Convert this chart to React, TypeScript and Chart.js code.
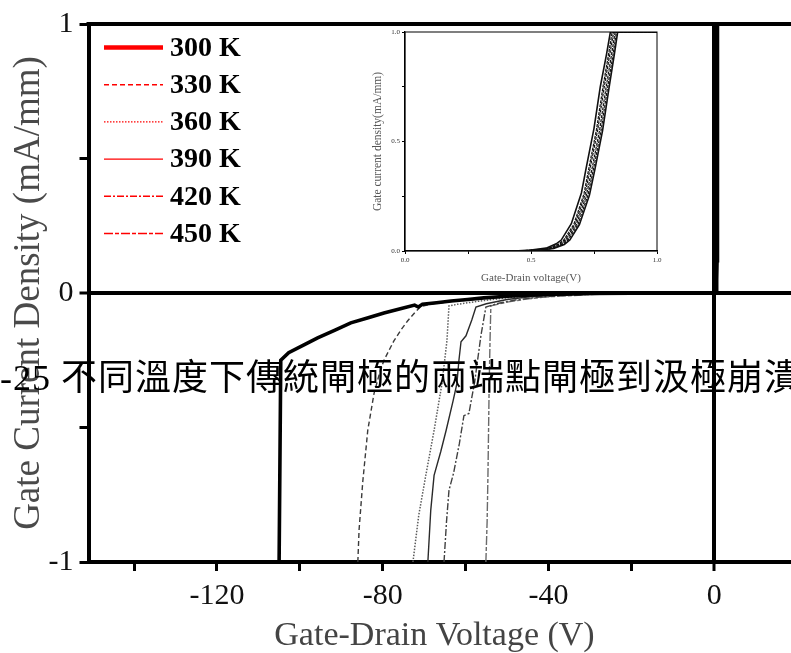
import { useEffect, useRef } from 'react';
import { Chart, registerables } from 'chart.js';

Chart.register(...registerables);

type Pt = [number, number];

// Temperatures of the six sweeps
const curveLabels = ['300 K', '330 K', '360 K', '390 K', '420 K', '450 K'];

// Reverse sweeps: gate-drain voltage (V), gate current density (mA/mm)
const reverse300: Pt[] = [
  [-105.0, -1.0], [-104.6, -0.25], [-102.7, -0.222], [-99.0, -0.193], [-95.7, -0.167],
  [-91.5, -0.138], [-87.7, -0.111], [-83.5, -0.092], [-79.7, -0.074], [-75.5, -0.058],
  [-72.3, -0.045], [-71.4, -0.052], [-70.4, -0.042], [-67.0, -0.036], [-63.5, -0.03],
  [-59.5, -0.024], [-55.6, -0.018], [-50.0, -0.012], [-45.0, -0.008], [-40.0, -0.005],
  [-30.0, -0.002], [-20.0, -0.001], [0, 0],
];
const reverse330: Pt[] = [
  [-86.0, -1.0], [-85.7, -0.88], [-84.8, -0.7], [-83.6, -0.51], [-82.1, -0.374],
  [-80.8, -0.3], [-79.7, -0.25], [-77.3, -0.178], [-75.5, -0.135], [-74.0, -0.104],
  [-72.2, -0.072], [-70.8, -0.05], [-68.0, -0.04], [-63.5, -0.032], [-55.6, -0.02],
  [-50.0, -0.014], [-45.0, -0.009], [-38.0, -0.005], [-30.0, -0.003], [-20.0, -0.001], [0, 0],
];
const reverse360: Pt[] = [
  [-72.7, -1.0], [-71.3, -0.826], [-69.6, -0.678], [-67.6, -0.511], [-65.7, -0.337],
  [-64.5, -0.178], [-64.0, -0.048], [-62.0, -0.042], [-58.0, -0.033], [-54.0, -0.025],
  [-50.0, -0.018], [-45.0, -0.012], [-40.0, -0.007], [-30.0, -0.003], [-20.0, -0.001], [0, 0],
];
const reverse390: Pt[] = [
  [-69.1, -1.0], [-68.4, -0.807], [-67.6, -0.678], [-66.0, -0.59], [-64.7, -0.511],
  [-63.0, -0.4], [-62.1, -0.337], [-61.6, -0.25], [-61.1, -0.181], [-59.9, -0.159],
  [-58.5, -0.1], [-57.5, -0.052], [-55.0, -0.04], [-50.0, -0.024], [-45.0, -0.015],
  [-40.0, -0.009], [-30.0, -0.004], [-20.0, -0.001], [0, 0],
];
const reverse420: Pt[] = [
  [-65.2, -1.0], [-64.6, -0.85], [-64.0, -0.733], [-62.9, -0.67], [-61.5, -0.56],
  [-60.4, -0.456], [-59.2, -0.448], [-57.8, -0.33], [-56.3, -0.159], [-55.1, -0.052],
  [-52.0, -0.038], [-48.0, -0.026], [-42.0, -0.015], [-35.0, -0.008], [-25.0, -0.003],
  [-15.0, -0.001], [0, 0],
];
const reverse450: Pt[] = [
  [-55.1, -1.0], [-54.8, -0.85], [-54.6, -0.678], [-54.3, -0.337], [-54.1, -0.18],
  [-53.9, -0.048], [-50.0, -0.034], [-45.0, -0.022], [-40.0, -0.014], [-30.0, -0.006],
  [-20.0, -0.002], [0, 0],
];

// Forward sweeps (0 to 1 V), clamped at the 1 mA/mm compliance
const forward300: Pt[] = [
  [0.42, 0], [0.48, 0.001], [0.535, 0.004], [0.59, 0.012], [0.632, 0.03], [0.654, 0.05],
  [0.692, 0.12], [0.732, 0.255], [0.754, 0.375], [0.784, 0.55], [0.809, 0.74], [0.831, 0.9],
  [0.844, 1.0], [1.0, 1.0],
];
const forward330: Pt[] = [
  [0.42, 0], [0.48, 0.001], [0.53, 0.004], [0.585, 0.012], [0.626, 0.03], [0.648, 0.05],
  [0.686, 0.12], [0.726, 0.255], [0.748, 0.375], [0.778, 0.55], [0.803, 0.74], [0.826, 0.9],
  [0.839, 1.0], [1.0, 1.0],
];
const forward360: Pt[] = [
  [0.41, 0], [0.47, 0.001], [0.525, 0.004], [0.58, 0.012], [0.62, 0.03], [0.642, 0.05],
  [0.68, 0.12], [0.72, 0.255], [0.742, 0.375], [0.772, 0.55], [0.797, 0.74], [0.82, 0.9],
  [0.834, 1.0], [1.0, 1.0],
];
const forward390: Pt[] = [
  [0.41, 0], [0.47, 0.001], [0.52, 0.004], [0.575, 0.013], [0.615, 0.032], [0.636, 0.05],
  [0.675, 0.122], [0.715, 0.26], [0.735, 0.38], [0.765, 0.555], [0.79, 0.745], [0.813, 0.9],
  [0.828, 1.0], [1.0, 1.0],
];
const forward420: Pt[] = [
  [0.4, 0], [0.46, 0.001], [0.51, 0.004], [0.57, 0.013], [0.61, 0.032], [0.63, 0.05],
  [0.67, 0.122], [0.71, 0.26], [0.73, 0.38], [0.76, 0.555], [0.785, 0.745], [0.808, 0.9],
  [0.822, 1.0], [1.0, 1.0],
];
const forward450: Pt[] = [
  [0.4, 0], [0.45, 0.001], [0.5, 0.004], [0.56, 0.013], [0.6, 0.033], [0.62, 0.05],
  [0.66, 0.125], [0.7, 0.265], [0.72, 0.385], [0.75, 0.56], [0.775, 0.75], [0.8, 0.9],
  [0.815, 1.0], [1.0, 1.0],
];

const reverseSweeps = [reverse300, reverse330, reverse360, reverse390, reverse420, reverse450];
const forwardSweeps = [forward300, forward330, forward360, forward390, forward420, forward450];

// Axis ticks
const xTicks = [-140, -120, -100, -80, -60, -40, -20, 0, 20];
const xLabelled = [-120, -80, -40, 0];
const yTicks = [-1, -0.5, 0, 0.5, 1];
const yLabelled = [-1, 0, 1];
const insetTicks = [0, 0.25, 0.5, 0.75, 1];
const insetLabelled = [0, 0.5, 1];

// Trace styles
const traceColor = ['#000000', '#3a3a3a', '#5a5a5a', '#2a2a2a', '#404040', '#6a6a6a'];
const traceWidth = [3.6, 1.4, 1.5, 1.4, 1.4, 1.4];
const traceDash: number[][] = [[], [5, 3], [1.5, 1.5], [], [7, 2, 2, 2], [9, 2, 4, 2]];
const insetWidth = [1.6, 1.2, 1.2, 1.2, 1.2, 1.6];
const keyRed = '#ff0000';

const serif = '"Liberation Serif", "Times New Roman", serif';

const toXY = (pts: Pt[]) => pts.map(([x, y]) => ({ x, y }));

// Heavy top edge of the frame, plus a far right edge
const frameEdges = {
  id: 'frameEdges',
  afterDraw(chart: any) {
    const { ctx, chartArea } = chart;
    ctx.save();
    ctx.strokeStyle = '#000';
    ctx.lineWidth = 4;
    ctx.beginPath();
    ctx.moveTo(chartArea.left - 2, chartArea.top);
    ctx.lineTo(chartArea.right, chartArea.top);
    ctx.lineTo(chartArea.right, chartArea.bottom);
    ctx.stroke();
    ctx.restore();
  },
};

// Red line-style key in the upper left of the plot
const redKey = {
  id: 'redKey',
  afterDraw(chart: any) {
    const { ctx, chartArea } = chart;
    ctx.save();
    chart.data.datasets.forEach((ds: any, i: number) => {
      const y = chartArea.top + 23.5 + i * 37.2;
      const x0 = chartArea.left + 15.5;
      ctx.strokeStyle = keyRed;
      ctx.lineWidth = i === 0 ? 4.5 : 1.4;
      ctx.setLineDash(ds.borderDash || []);
      ctx.beginPath();
      ctx.moveTo(x0, y);
      ctx.lineTo(x0 + 59, y);
      ctx.stroke();
      ctx.setLineDash([]);
      ctx.fillStyle = '#000';
      ctx.font = `bold 28px ${serif}`;
      ctx.textBaseline = 'middle';
      ctx.textAlign = 'left';
      ctx.fillText(ds.label, x0 + 66, y + 1);
    });
    ctx.restore();
  },
};

// Bottom axis caption
const xCaption = {
  id: 'xCaption',
  afterDraw(chart: any) {
    const { ctx, chartArea } = chart;
    ctx.save();
    ctx.font = `34px ${serif}`;
    ctx.fillStyle = '#444';
    ctx.textAlign = 'center';
    ctx.textBaseline = 'middle';
    ctx.fillText('Gate-Drain Voltage (V)', chartArea.left + 346, 636);
    ctx.restore();
  },
};

// Thin box around the inset plot
const insetFrame = {
  id: 'insetFrame',
  afterDraw(chart: any) {
    const { ctx, chartArea } = chart;
    ctx.save();
    ctx.strokeStyle = '#000';
    ctx.lineWidth = 1;
    ctx.strokeRect(chartArea.left, chartArea.top, chartArea.right - chartArea.left, chartArea.bottom - chartArea.top);
    ctx.restore();
  },
};

const zeroGrid = {
  color: (c: any) => (c.tick && c.tick.value === 0 ? '#000' : 'rgba(0,0,0,0)'),
  lineWidth: (c: any) => (c.tick && c.tick.value === 0 ? 4 : 1),
  tickColor: '#000',
  tickWidth: 3,
  tickLength: 9,
};

function MainPlot() {
  const ref = useRef<HTMLCanvasElement>(null);
  useEffect(() => {
    const chart = new Chart(ref.current as HTMLCanvasElement, {
      type: 'line',
      data: {
        datasets: curveLabels.map((label, i) => ({
          label,
          data: toXY([...reverseSweeps[i], ...forwardSweeps[i]]),
          borderColor: traceColor[i],
          borderWidth: traceWidth[i],
          borderDash: traceDash[i],
          pointRadius: 0,
          fill: false,
          tension: 0,
        })),
      },
      options: {
        animation: false,
        responsive: false,
        layout: { padding: { top: 22.5, right: 11.5, left: 0, bottom: 0 } },
        plugins: { legend: { display: false }, tooltip: { enabled: false } },
        scales: {
          x: {
            type: 'linear',
            min: -151,
            max: 30,
            afterBuildTicks: (s: any) => {
              s.ticks = xTicks.map((value) => ({ value }));
            },
            afterFit: (s: any) => {
              s.height = 91;
            },
            ticks: {
              autoSkip: false,
              maxRotation: 0,
              padding: 7,
              color: '#111',
              font: { family: serif, size: 30 },
              callback: (v: any) => (xLabelled.includes(v) ? String(v) : ''),
            },
            grid: zeroGrid,
            border: { display: true, color: '#000', width: 4 },
          },
          y: {
            type: 'linear',
            min: -1,
            max: 1,
            afterBuildTicks: (s: any) => {
              s.ticks = yTicks.map((value) => ({ value }));
            },
            afterFit: (s: any) => {
              s.width = 88.5;
            },
            ticks: {
              autoSkip: false,
              padding: 6,
              color: '#111',
              font: { family: serif, size: 30 },
              callback: (v: any) => (yLabelled.includes(v) ? String(v) : ''),
            },
            title: {
              display: true,
              text: 'Gate Current Density (mA/mm)',
              color: '#4a4a4a',
              font: { family: serif, size: 37 },
              padding: { top: 7, bottom: 0 },
            },
            grid: zeroGrid,
            border: { display: true, color: '#000', width: 4 },
          },
        },
      },
      plugins: [frameEdges, redKey, xCaption],
    } as any);
    return () => chart.destroy();
  }, []);
  return (
    <canvas
      ref={ref}
      width={850}
      height={653}
      style={{ position: 'absolute', left: 0, top: 0, width: 850, height: 653 }}
    />
  );
}

function InsetPlot() {
  const ref = useRef<HTMLCanvasElement>(null);
  useEffect(() => {
    const smallTicks = {
      autoSkip: false,
      maxRotation: 0,
      padding: 2,
      color: '#333',
      font: { family: serif, size: 7 },
      callback: (v: any) => (insetLabelled.includes(v) ? Number(v).toFixed(1) : ''),
    };
    const smallGrid = { drawOnChartArea: false, tickLength: 3, tickColor: '#000', tickWidth: 1 };
    const chart = new Chart(ref.current as HTMLCanvasElement, {
      type: 'line',
      data: {
        datasets: curveLabels.map((label, i) => ({
          label,
          data: toXY([[0, 0], ...forwardSweeps[i]]),
          borderColor: '#111',
          borderWidth: insetWidth[i],
          borderDash: i === 0 || i === 5 ? [] : [3, 1],
          pointRadius: 0,
          fill: false,
          tension: 0,
        })),
      },
      options: {
        animation: false,
        responsive: false,
        layout: { padding: { top: 10, right: 13, left: 0, bottom: 0 } },
        plugins: { legend: { display: false }, tooltip: { enabled: false } },
        scales: {
          x: {
            type: 'linear',
            min: 0,
            max: 1,
            afterBuildTicks: (s: any) => {
              s.ticks = insetTicks.map((value) => ({ value }));
            },
            afterFit: (s: any) => {
              s.height = 39;
            },
            ticks: smallTicks,
            grid: smallGrid,
            border: { display: true, color: '#000', width: 1.3 },
            title: {
              display: true,
              text: 'Gate-Drain voltage(V)',
              color: '#555',
              font: { family: serif, size: 11 },
              padding: { top: 0, bottom: 5 },
            },
          },
          y: {
            type: 'linear',
            min: 0,
            max: 1,
            afterBuildTicks: (s: any) => {
              s.ticks = insetTicks.map((value) => ({ value }));
            },
            afterFit: (s: any) => {
              s.width = 45;
            },
            ticks: smallTicks,
            grid: smallGrid,
            border: { display: true, color: '#000', width: 1.3 },
            title: {
              display: true,
              text: 'Gate current density(mA/mm)',
              color: '#555',
              font: { family: serif, size: 11.5 },
              padding: { top: 11, bottom: 0 },
            },
          },
        },
      },
      plugins: [insetFrame],
    } as any);
    return () => chart.destroy();
  }, []);
  return (
    <canvas
      ref={ref}
      width={310}
      height={268}
      style={{ position: 'absolute', left: 360, top: 22, width: 310, height: 268 }}
    />
  );
}

export default function App() {
  return (
    <div
      style={{
        position: 'fixed',
        left: 0,
        top: 0,
        width: 791,
        height: 653,
        overflow: 'hidden',
        background: '#fff',
      }}
    >
      <MainPlot />
      <InsetPlot />
      <div
        style={{
          position: 'absolute',
          left: 0,
          top: 358,
          whiteSpace: 'nowrap',
          fontSize: 36,
          lineHeight: '40px',
          letterSpacing: 1,
          color: '#000',
          fontFamily: '"Liberation Serif", "Noto Sans CJK TC", serif',
          pointerEvents: 'none',
        }}
      >
        <span style={{ position: 'relative', display: 'inline-block' }}>
          <span style={{ position: 'absolute', right: '100%', top: 0 }}>圖4</span>
          -25 不同溫度下傳統閘極的兩端點閘極到汲極崩潰電壓
        </span>
      </div>
    </div>
  );
}
